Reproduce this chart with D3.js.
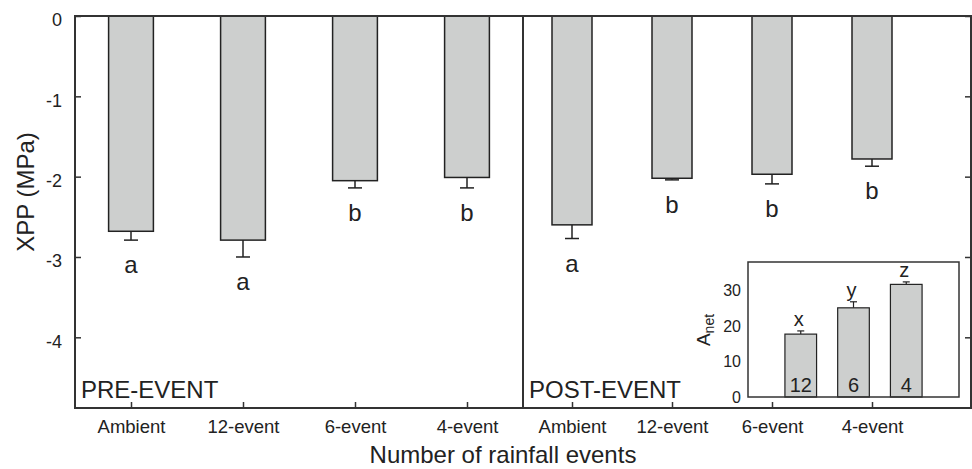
<meta charset="utf-8"/>
<html>
<head>
<script src="https://d3js.org/d3.v7.min.js"></script>
<style>
  * { padding: 0; margin: 0; }
  body { background: #fff; }
  text { font-family: "Liberation Sans", Arial, Helvetica, sans-serif; fill: #222; }
  .tick line { stroke: #333; stroke-width: 1.5; }
</style>
</head>
<body>
<div id="chart"></div>
<script>
// categories and values
const categories = ["Ambient", "12-event", "6-event", "4-event"];
const preMeans = [-2.68, -2.79, -2.05, -2.01];
const preErr = [0.11, 0.21, 0.09, 0.13];
const preLetters = ["a", "a", "b", "b"];
const postMeans = [-2.60, -2.02, -1.97, -1.78];
const postErr = [0.17, 0.02, 0.12, 0.09];
const postLetters = ["a", "b", "b", "b"];
const yTicks = [0, -1, -2, -3, -4];

// inset: net assimilation
const insetLabels = ["12", "6", "4"];
const insetMeans = [17.7, 25.1, 31.7];
const insetErr = [0.9, 1.7, 0.7];
const insetLetters = ["x", "y", "z"];
const insetTicks = [0, 10, 20, 30];

const width = 972, height = 469;
const plotTop = 16, plotBottom = 408;
const plotLeft = 75, plotMid = 523, plotRight = 971;

var svg = d3.select("#chart").append("svg")
    .attr("width", width)
    .attr("height", height);

var y = d3.scaleLinear().domain([0, -4.88]).range([plotTop, plotBottom]);
var xL = d3.scaleLinear().domain([-0.5, 3.5]).range([plotLeft, plotMid]);
var xR = d3.scaleLinear().domain([-0.49, 3.99]).range([plotMid, plotRight]);

function panel(x, means, errs, letters, name, x0) {
    var g = svg.append("g");
    var bw = x(0.2) - x(-0.2);
    var d = means.map((m, i) => ({i: i, m: m, e: errs[i], l: letters[i]}));

    // error bars (downward only)
    g.selectAll(".err").data(d).enter().append("line")
        .attr("x1", v => x(v.i)).attr("x2", v => x(v.i))
        .attr("y1", v => y(v.m)).attr("y2", v => y(v.m - v.e))
        .attr("stroke", "#222").attr("stroke-width", 1.5);
    g.selectAll(".cap").data(d).enter().append("line")
        .attr("x1", v => x(v.i) - 7).attr("x2", v => x(v.i) + 7)
        .attr("y1", v => y(v.m - v.e)).attr("y2", v => y(v.m - v.e))
        .attr("stroke", "#222").attr("stroke-width", 1.5);

    g.selectAll("rect").data(d).enter().append("rect")
        .attr("x", v => x(v.i) - bw / 2)
        .attr("width", bw)
        .attr("y", y(0))
        .attr("height", v => y(v.m) - y(0))
        .attr("fill", "#cdcfce")
        .attr("stroke", "#222")
        .attr("stroke-width", 1.5);

    g.selectAll(".letter").data(d).enter().append("text")
        .attr("x", v => x(v.i))
        .attr("y", v => y(v.m - v.e) + 33)
        .attr("text-anchor", "middle")
        .style("font-size", "24px")
        .text(v => v.l);

    var ax = g.append("g")
        .attr("transform", "translate(0," + plotBottom + ")")
        .call(d3.axisBottom(x).tickValues([0, 1, 2, 3])
            .tickFormat(i => categories[i]).tickSize(-6).tickPadding(12));
    ax.select(".domain").remove();
    ax.selectAll("text").style("font-size", "18.5px").attr("fill", "#222");

    g.append("text")
        .attr("x", x0 + 6).attr("y", 398)
        .style("font-size", "24px")
        .text(name);
}

panel(xL, preMeans, preErr, preLetters, "PRE-EVENT", plotLeft);
panel(xR, postMeans, postErr, postLetters, "POST-EVENT", plotMid);

var yl = svg.append("g")
    .attr("transform", "translate(" + plotLeft + ",0)")
    .call(d3.axisLeft(y).tickValues(yTicks).tickFormat(d => String(d)).tickSize(-6).tickPadding(13));
yl.select(".domain").remove();
yl.selectAll("text").style("font-size", "18px").attr("dy", "0.55em").attr("fill", "#222");

var yr = svg.append("g")
    .attr("transform", "translate(" + plotRight + ",0)")
    .call(d3.axisRight(y).tickValues(yTicks).tickFormat("").tickSize(-6));
yr.select(".domain").remove();

// panel frames
svg.append("rect").attr("x", plotLeft).attr("y", plotTop)
    .attr("width", plotMid - plotLeft).attr("height", plotBottom - plotTop)
    .attr("fill", "none").attr("stroke", "#333").attr("stroke-width", 2);
svg.append("rect").attr("x", plotMid).attr("y", plotTop)
    .attr("width", plotRight - plotMid).attr("height", plotBottom - plotTop)
    .attr("fill", "none").attr("stroke", "#333").attr("stroke-width", 2);

svg.append("text")
    .attr("transform", "translate(34,192) rotate(-90)")
    .attr("text-anchor", "middle")
    .style("font-size", "24px")
    .text("XPP (MPa)");

svg.append("text")
    .attr("x", 503).attr("y", 463)
    .attr("text-anchor", "middle")
    .style("font-size", "24px")
    .text("Number of rainfall events");

// inset
var ix = d3.scaleLinear().domain([0, 4]).range([748, 959]);
var iy = d3.scaleLinear().domain([0, 38]).range([397, 262]);
var inset = svg.append("g");
var ibw = ix(0.3) - ix(-0.3);
var idata = insetMeans.map((m, i) => ({i: i + 1, m: m, e: insetErr[i], l: insetLetters[i], n: insetLabels[i]}));

inset.selectAll(".err").data(idata).enter().append("line")
    .attr("x1", v => ix(v.i)).attr("x2", v => ix(v.i))
    .attr("y1", v => iy(v.m)).attr("y2", v => iy(v.m + v.e))
    .attr("stroke", "#222").attr("stroke-width", 1.2);
inset.selectAll(".cap").data(idata).enter().append("line")
    .attr("x1", v => ix(v.i) - 3.5).attr("x2", v => ix(v.i) + 3.5)
    .attr("y1", v => iy(v.m + v.e)).attr("y2", v => iy(v.m + v.e))
    .attr("stroke", "#222").attr("stroke-width", 1.2);
inset.selectAll("rect.bar").data(idata).enter().append("rect")
    .attr("class", "bar")
    .attr("x", v => ix(v.i) - ibw / 2)
    .attr("width", ibw)
    .attr("y", v => iy(v.m))
    .attr("height", v => iy(0) - iy(v.m))
    .attr("fill", "#cdcfce").attr("stroke", "#222").attr("stroke-width", 1.2);
inset.selectAll(".num").data(idata).enter().append("text")
    .attr("x", v => ix(v.i)).attr("y", 392)
    .attr("text-anchor", "middle")
    .style("font-size", "20px")
    .text(v => v.n);
inset.selectAll(".lt").data(idata).enter().append("text")
    .attr("x", v => ix(v.i) - 2).attr("y", v => iy(v.m + v.e) - 5)
    .attr("text-anchor", "middle")
    .style("font-size", "20px")
    .text(v => v.l);

inset.append("rect").attr("x", ix(0)).attr("y", iy(38))
    .attr("width", ix(4) - ix(0)).attr("height", iy(0) - iy(38))
    .attr("fill", "none").attr("stroke", "#333").attr("stroke-width", 1.5);

var iya = inset.append("g")
    .attr("transform", "translate(" + ix(0) + ",0)")
    .call(d3.axisLeft(iy).tickValues(insetTicks).tickSize(0).tickPadding(7));
iya.select(".domain").remove();
iya.selectAll("text").style("font-size", "16px").attr("fill", "#222");

var an = inset.append("text")
    .attr("transform", "translate(710,330) rotate(-90)")
    .attr("text-anchor", "middle")
    .style("font-size", "19px");
an.append("tspan").text("A");
an.append("tspan").attr("dy", 4).style("font-size", "14px").text("net");
</script>
</body>
</html>
